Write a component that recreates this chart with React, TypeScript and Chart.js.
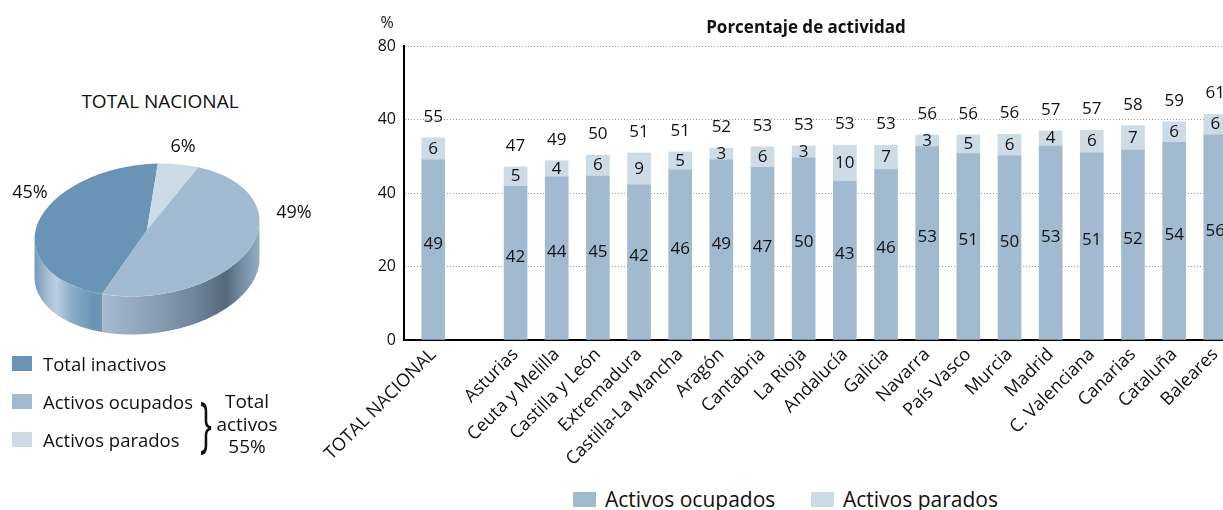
import React, { useEffect, useRef } from "react";
import { Chart, registerables } from "chart.js";

Chart.register(...registerables);

const FONT = '"Open Sans", "Noto Sans", sans-serif';

// ---- Bar chart data ----
const categories = [
  "TOTAL NACIONAL", "", "Asturias", "Ceuta y Melilla", "Castilla y León", "Extremadura",
  "Castilla-La Mancha", "Aragón", "Cantabria", "La Rioja", "Andalucía", "Galicia", "Navarra",
  "País Vasco", "Murcia", "Madrid", "C. Valenciana", "Canarias", "Cataluña", "Baleares",
];
const ocupados = [49.0, null, 41.8, 44.4, 44.6, 42.2, 46.3, 49.0, 47.0, 49.6, 43.2, 46.4, 52.6, 50.7, 50.1, 52.8, 50.9, 51.7, 53.8, 55.8];
const parados = [6.0, null, 5.3, 4.4, 5.7, 8.7, 4.9, 3.2, 5.6, 3.2, 9.8, 6.6, 3.2, 5.1, 5.9, 4.1, 6.2, 6.6, 5.6, 5.6];
const yTickLabels = ["0", "20", "40", "40", "80"];

// ---- Pie data (clockwise drawing order) ----
const pieLabels = ["Total inactivos", "Activos parados", "Activos ocupados"];
const pieValues = [45, 6, 49];
const pieValueLabels = ["45%", "6%", "49%"];

const OCC = "#a2bad0";
const PAR = "#cddbe7";
const INACT = "#6a94b6";
const pieColors = [INACT, PAR, OCC];
const sideStops: [number, string][][] = [
  [[0, "#6f97b9"], [0.06, "#a6bed3"], [0.1, "#bccfdf"], [0.16, "#8eafca"], [0.26, "#6a94b6"], [0.3, "#6a94b6"]],
  [[0, "#b0c4d6"], [1, "#8ea6bc"]],
  [[0.28, "#a9bdd1"], [0.5, "#8ea3b8"], [0.7, "#72879b"], [0.85, "#55687a"], [0.93, "#7a92a8"], [1, "#94adc3"]],
];

function PieChart3D() {
  const ref = useRef<HTMLCanvasElement>(null);
  useEffect(() => {
    const tilt = (-7 * Math.PI) / 180;
    const squash = 0.58;
    const depth = 38;
    const pie3d = {
      id: "pie3d",
      beforeDatasetsDraw(chart: any) {
        const ctx = chart.ctx as CanvasRenderingContext2D;
        const arcs = chart.getDatasetMeta(0).data as any[];
        if (!arcs.length) return;
        const cx = arcs[0].x, cy = arcs[0].y, r = arcs[0].outerRadius;
        const pt = (t: number) => {
          const ex = r * Math.cos(t), ey = r * squash * Math.sin(t);
          return [cx + ex * Math.cos(tilt) - ey * Math.sin(tilt), cy + ex * Math.sin(tilt) + ey * Math.cos(tilt)];
        };
        const t0 = Math.atan(-squash * Math.tan(tilt));
        arcs.forEach((arc: any, i: number) => {
          const s = arc.startAngle, e = arc.endAngle;
          for (let k = -2; k <= 3; k++) {
            const fa = t0 + 2 * Math.PI * k, fb = fa + Math.PI;
            const a = Math.max(s, fa), b = Math.min(e, fb);
            if (b <= a) continue;
            const grad = ctx.createLinearGradient(cx - r, 0, cx + r, 0);
            sideStops[i].forEach(([p, c]) => grad.addColorStop(p, c));
            ctx.beginPath();
            const n = 80;
            for (let j = 0; j <= n; j++) {
              const [x, y] = pt(a + ((b - a) * j) / n);
              if (j === 0) ctx.moveTo(x, y); else ctx.lineTo(x, y);
            }
            for (let j = n; j >= 0; j--) {
              const [x, y] = pt(a + ((b - a) * j) / n);
              ctx.lineTo(x, y + depth);
            }
            ctx.closePath();
            ctx.fillStyle = grad;
            ctx.fill();
          }
        });
        ctx.save();
        ctx.translate(cx, cy);
        ctx.rotate(tilt);
        ctx.scale(1, squash);
        ctx.translate(-cx, -cy);
      },
      afterDatasetsDraw(chart: any) {
        chart.ctx.restore();
      },
    };
    const chart = new Chart(ref.current as HTMLCanvasElement, {
      type: "pie",
      data: {
        labels: pieLabels,
        datasets: [{ data: pieValues, backgroundColor: pieColors, borderWidth: 0, clip: false } as any],
      },
      options: {
        responsive: false,
        animation: false,
        events: [],
        rotation: 207.6,
        layout: { padding: 0 },
        plugins: { legend: { display: false }, tooltip: { enabled: false } },
      },
      plugins: [pie3d as any],
    });
    return () => chart.destroy();
  }, []);
  return <canvas ref={ref} width={226} height={226} style={{ position: "absolute", left: 34, top: 117 }} />;
}

function BarChart() {
  const ref = useRef<HTMLCanvasElement>(null);
  useEffect(() => {
    const idx = categories.map((_, i) => i).filter((i) => ocupados[i] != null);
    const barLabels = {
      id: "barLabels",
      afterDatasetsDraw(chart: any) {
        const ctx = chart.ctx as CanvasRenderingContext2D;
        const m0 = chart.getDatasetMeta(0).data as any[];
        const m1 = chart.getDatasetMeta(1).data as any[];
        ctx.save();
        ctx.font = `17px ${FONT}`;
        ctx.fillStyle = "#111";
        ctx.textAlign = "center";
        ctx.textBaseline = "middle";
        idx.forEach((ci, k) => {
          const b0 = m0[k], b1 = m1[k];
          ctx.fillText(String(Math.round(ocupados[ci] as number)), b0.x, (b0.y + b0.base) / 2 - 6);
          ctx.fillText(String(Math.round(parados[ci] as number)), b1.x, (b1.y + b1.base) / 2);
          ctx.fillText(String(Math.round((ocupados[ci] as number) + (parados[ci] as number))), b1.x, b1.y - 21);
        });
        ctx.restore();
      },
    };
    const chart = new Chart(ref.current as HTMLCanvasElement, {
      type: "bar",
      data: {
        datasets: [
          { label: "Activos ocupados", data: idx.map((i) => ({ x: i, y: ocupados[i] })), backgroundColor: OCC, barThickness: 23 } as any,
          { label: "Activos parados", data: idx.map((i) => ({ x: i, y: parados[i] })), backgroundColor: PAR, barThickness: 23 } as any,
        ],
      },
      options: {
        responsive: false,
        animation: false,
        events: [],
        layout: { padding: { top: 46, left: 0, right: 0, bottom: 0 } },
        plugins: { legend: { display: false }, tooltip: { enabled: false } },
        scales: {
          x: {
            type: "linear",
            offset: false,
            stacked: true,
            min: -0.71,
            max: 19.6,
            grid: { display: false, drawTicks: false, offset: false },
            border: { display: true, color: "#000", width: 2 },
            afterBuildTicks: (s: any) => {
              s.ticks = idx.map((i) => ({ value: i }));
            },
            afterFit: (s: any) => {
              s.height = 130;
              s.paddingLeft = 0;
              s.paddingRight = 0;
            },
            ticks: {
              autoSkip: false,
              minRotation: 45,
              maxRotation: 45,
              padding: 4,
              color: "#111",
              font: { family: FONT, size: 18 },
              callback: (v: any) => categories[v as number],
            },
          } as any,
          y: {
            stacked: true,
            min: 0,
            max: 80,
            grid: { color: "#9a9a9a", lineWidth: 1, drawTicks: false },
            border: { display: true, color: "#000", width: 2, dash: [1, 2] },
            afterFit: (s: any) => {
              s.width = 104;
            },
            ticks: {
              stepSize: 20,
              padding: 8,
              color: "#111",
              font: { family: FONT, size: 16 },
              callback: (_v: any, i: number) => yTickLabels[i],
            },
          } as any,
        },
      },
      plugins: [barLabels as any],
    });
    return () => chart.destroy();
  }, []);
  return <canvas ref={ref} width={940} height={470} style={{ position: "absolute", left: 300, top: 0 }} />;
}

const abs = (x: number, y: number, extra: React.CSSProperties = {}): React.CSSProperties => ({
  position: "absolute",
  left: x,
  top: y,
  transform: "translate(-50%, -50%)",
  whiteSpace: "nowrap",
  ...extra,
});

const leftLegend = [
  { label: "Total inactivos", color: INACT },
  { label: "Activos ocupados", color: OCC },
  { label: "Activos parados", color: PAR },
];

export default function App() {
  return (
    <div
      style={{
        position: "absolute",
        left: 0,
        top: 0,
        width: 1223,
        height: 510,
        overflow: "hidden",
        background: "#fff",
        fontFamily: FONT,
        color: "#111",
      }}
    >
      <PieChart3D />
      <BarChart />
      <div style={abs(160, 101, { fontSize: 19 })}>TOTAL NACIONAL</div>
      <div style={abs(183, 145, { fontSize: 18 })}>{pieValueLabels[1]}</div>
      <div style={abs(30, 191, { fontSize: 18 })}>{pieValueLabels[0]}</div>
      <div style={abs(294, 211, { fontSize: 18 })}>{pieValueLabels[2]}</div>

      {leftLegend.map((l, i) => (
        <React.Fragment key={l.label}>
          <div style={{ position: "absolute", left: 12, top: 356 + i * 38, width: 20, height: 15, background: l.color }} />
          <div style={{ position: "absolute", left: 43, top: 363 + i * 38, transform: "translateY(-50%)", fontSize: 18.5, whiteSpace: "nowrap" }}>
            {l.label}
          </div>
        </React.Fragment>
      ))}
      <div style={abs(206, 422, { fontSize: 40, transform: "translate(-50%, -50%) scale(0.8, 1.5)", lineHeight: 1 })}>{"}"}</div>
      <div style={abs(247, 424, { fontSize: 19, lineHeight: "22.5px", textAlign: "center" })}>
        Total
        <br />
        activos
        <br />
        55%
      </div>

      <div style={abs(387, 22, { fontSize: 16 })}>%</div>
      <div style={abs(806, 26, { fontSize: 17, fontWeight: 700 })}>Porcentaje de actividad</div>

      <div style={{ position: "absolute", left: 573, top: 492, width: 23, height: 15, background: OCC }} />
      <div style={abs(605, 499, { fontSize: 21, transform: "translateY(-50%)" })}>Activos ocupados</div>
      <div style={{ position: "absolute", left: 811, top: 492, width: 23, height: 15, background: PAR }} />
      <div style={abs(843, 499, { fontSize: 21, transform: "translateY(-50%)" })}>Activos parados</div>
    </div>
  );
}
